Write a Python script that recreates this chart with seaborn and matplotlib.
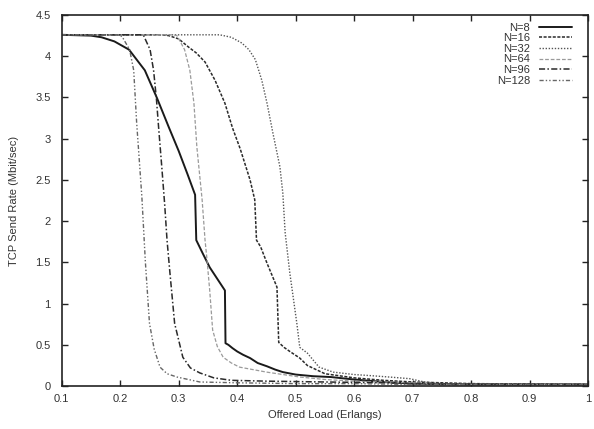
import seaborn as sns
import pandas as pd
import matplotlib.pyplot as plt

# offered load (x) / tcp send rate (y)
x_n8 = [0.10, 0.15, 0.168, 0.19, 0.215, 0.242, 0.263, 0.283, 0.30, 0.315, 0.328, 0.330, 0.341, 0.353, 0.366, 0.379,
        0.380, 0.385, 0.392, 0.40, 0.41, 0.422, 0.435, 0.451, 0.465, 0.478, 0.50, 0.53, 0.56, 0.60, 0.65, 0.70, 0.80, 1.00]
y_n8 = [4.26, 4.25, 4.23, 4.18, 4.08, 3.83, 3.49, 3.14, 2.85, 2.57, 2.32, 1.77, 1.61, 1.44, 1.30, 1.16,
        0.52, 0.50, 0.46, 0.42, 0.38, 0.34, 0.28, 0.24, 0.20, 0.17, 0.14, 0.12, 0.11, 0.08, 0.05, 0.03, 0.02, 0.02]

x_n16 = [0.10, 0.27, 0.283, 0.30, 0.317, 0.33, 0.345, 0.362, 0.379, 0.392, 0.405, 0.422, 0.43, 0.433, 0.44, 0.451,
         0.468, 0.471, 0.48, 0.49, 0.507, 0.52, 0.55, 0.60, 0.65, 0.70, 0.80, 1.00]
y_n16 = [4.26, 4.26, 4.25, 4.21, 4.11, 4.04, 3.93, 3.71, 3.43, 3.13, 2.88, 2.50, 2.26, 1.77, 1.69, 1.49,
         1.20, 0.53, 0.47, 0.42, 0.34, 0.25, 0.15, 0.10, 0.07, 0.05, 0.03, 0.02]

x_n32 = [0.10, 0.37, 0.39, 0.408, 0.42, 0.431, 0.442, 0.451, 0.461, 0.473, 0.478, 0.482, 0.49, 0.502, 0.507,
         0.52, 0.54, 0.564, 0.60, 0.622, 0.66, 0.695, 0.72, 0.75, 1.00]
y_n32 = [4.26, 4.26, 4.23, 4.16, 4.08, 3.96, 3.71, 3.43, 3.07, 2.66, 2.34, 1.86, 1.37, 0.76, 0.47,
         0.40, 0.23, 0.17, 0.14, 0.13, 0.11, 0.09, 0.05, 0.03, 0.02]

x_n64 = [0.10, 0.29, 0.297, 0.31, 0.319, 0.326, 0.331, 0.34, 0.345, 0.348, 0.353, 0.358, 0.366, 0.376, 0.39,
         0.404, 0.45, 0.507, 0.55, 0.60, 0.65, 0.70, 0.75, 1.00]
y_n64 = [4.26, 4.26, 4.25, 4.08, 3.83, 3.43, 2.90, 2.26, 1.77, 1.56, 1.16, 0.68, 0.48, 0.35, 0.28,
         0.23, 0.17, 0.11, 0.08, 0.06, 0.05, 0.04, 0.02, 0.02]

x_n96 = [0.10, 0.235, 0.24, 0.251, 0.257, 0.262, 0.266, 0.271, 0.276, 0.28, 0.285, 0.293, 0.307, 0.32, 0.336,
         0.36, 0.39, 0.45, 0.55, 0.65, 0.75, 1.00]
y_n96 = [4.26, 4.26, 4.25, 4.08, 3.83, 3.47, 3.10, 2.66, 2.20, 1.77, 1.37, 0.76, 0.35, 0.22, 0.16,
         0.10, 0.07, 0.06, 0.05, 0.04, 0.02, 0.02]

x_n128 = [0.10, 0.195, 0.203, 0.216, 0.223, 0.228, 0.237, 0.243, 0.25, 0.258, 0.268, 0.28, 0.297, 0.336, 0.40,
          0.50, 0.60, 0.70, 1.00]
y_n128 = [4.26, 4.26, 4.24, 4.08, 3.83, 3.20, 2.29, 1.50, 0.76, 0.45, 0.23, 0.15, 0.11, 0.05, 0.04,
          0.03, 0.03, 0.02, 0.02]

labels = ["N=8", "N=16", "N=32", "N=64", "N=96", "N=128"]
xs = [x_n8, x_n16, x_n32, x_n64, x_n96, x_n128]
ys = [y_n8, y_n16, y_n32, y_n64, y_n96, y_n128]

colors = ["#1a1a1a", "#2a2a2a", "#555555", "#9a9a9a", "#2a2a2a", "#666666"]
styles = ["-", (0, (2, 1)), (0, (1, 1.2)), (0, (3, 1.5)), (0, (4, 1.5, 1, 1.5)), (0, (3, 1.5, 1, 1.5, 1, 1.5))]
widths = [1.4, 1.1, 1.0, 0.9, 1.1, 1.0]

sns.set_style("ticks")
plt.rcParams["font.family"] = ["Liberation Sans", "DejaVu Sans"]

fig = plt.figure(figsize=(5.94, 4.29), dpi=100)
ax = fig.add_axes([0.104, 0.10, 0.886, 0.865])

for lab, x, y, c, ls, lw in zip(labels, xs, ys, colors, styles, widths):
    df = pd.DataFrame({"x": x, "y": y})
    sns.lineplot(data=df, x="x", y="y", ax=ax, color=c, linestyle=ls, linewidth=lw,
                 estimator=None, sort=False, label=lab)

ax.set_xlim(0.1, 1.0)
ax.set_ylim(0, 4.5)
ax.set_xticks([0.1, 0.2, 0.3, 0.4, 0.5, 0.6, 0.7, 0.8, 0.9, 1.0])
ax.set_xticklabels(["0.1", "0.2", "0.3", "0.4", "0.5", "0.6", "0.7", "0.8", "0.9", "1"])
ax.set_yticks([0, 0.5, 1, 1.5, 2, 2.5, 3, 3.5, 4, 4.5])
ax.set_yticklabels(["0", "0.5", "1", "1.5", "2", "2.5", "3", "3.5", "4", "4.5"])
ax.tick_params(direction="in", length=4, width=1, top=True, right=True, labelsize=8, colors="#222222",
               labelcolor="#333333")
ax.tick_params(axis="y", pad=8)
ax.tick_params(axis="x", pad=6)
for s in ax.spines.values():
    s.set_linewidth(1.2)
    s.set_color("#222222")
ax.set_xlabel("Offered Load (Erlangs)", fontsize=8, color="#333333", labelpad=4)
ax.set_ylabel("TCP Send Rate (Mbit/sec)", fontsize=8, color="#333333", labelpad=12)

leg = ax.legend(loc="upper right", frameon=False, fontsize=8, markerfirst=False, alignment="right",
                handlelength=3.0, handletextpad=0.8, labelspacing=0.05, borderaxespad=0.3,
                bbox_to_anchor=(0.985, 1.0))
for t in leg.get_texts():
    t.set_color("#333333")

plt.savefig("out.png", dpi=100)
